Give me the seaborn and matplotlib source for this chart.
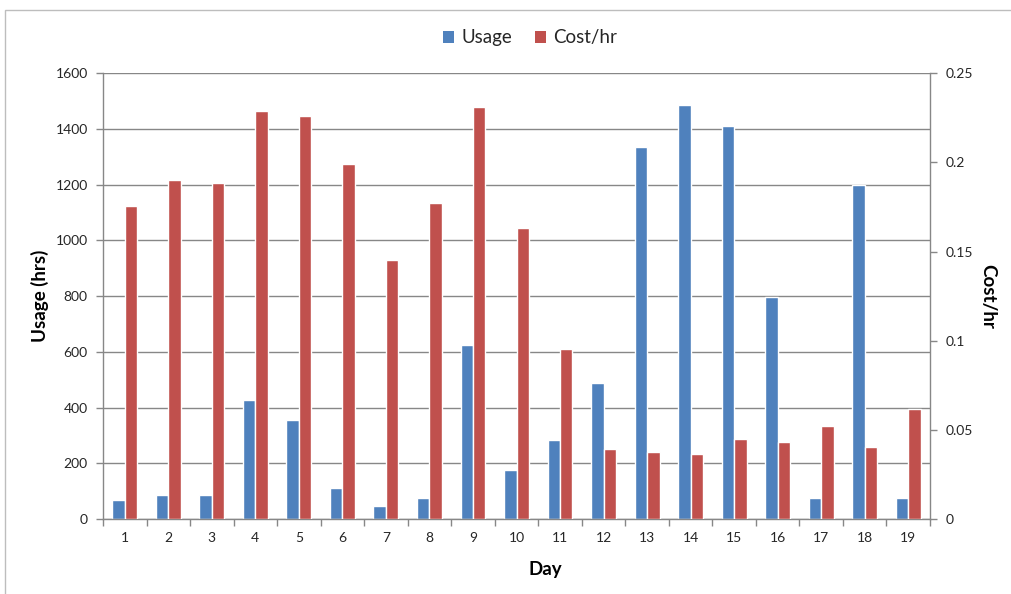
import numpy as np
import pandas as pd
import matplotlib
matplotlib.use("Agg")
import matplotlib.pyplot as plt
from matplotlib.patches import Patch, Rectangle
from matplotlib.ticker import FixedLocator, FuncFormatter
import seaborn as sns

days = [str(d) for d in range(1, 20)]
usage = [69, 87, 87, 428, 356, 112, 48, 74, 625, 177, 285, 488, 1335, 1485, 1412, 798, 74, 1199, 74]
cost = [0.1758, 0.190, 0.1887, 0.2287, 0.2261, 0.1992, 0.1452, 0.1771, 0.2313, 0.1631,
        0.0951, 0.0391, 0.0376, 0.0362, 0.0448, 0.0430, 0.0523, 0.0404, 0.0617]
series = ["Usage", "Cost/hr"]
colors = {"Usage": "#4F81BD", "Cost/hr": "#C0504D"}

sns.set_theme(style="white")
plt.rcParams["font.family"] = ["Lato", "DejaVu Sans"]

df_u = pd.DataFrame({"Day": days, "Series": "Usage", "Value": usage})
df_c = pd.DataFrame({"Day": days, "Series": "Cost/hr", "Value": cost})

W, H = 1011, 594
fig = plt.figure(figsize=(W / 100, H / 100), dpi=100)
fig.patch.set_facecolor("white")
ax = fig.add_axes([103 / W, 1 - 519 / H, (930 - 103) / W, (519 - 73.3) / H])
ax2 = ax.twinx()

grid_c = "#878787"
sns.barplot(data=df_u, x="Day", y="Value", hue="Series", hue_order=series, order=days,
            palette=colors, width=0.572, gap=0, dodge=True, ax=ax, legend=False,
            saturation=1, errorbar=None)
sns.barplot(data=df_c, x="Day", y="Value", hue="Series", hue_order=series, order=days,
            palette=colors, width=0.572, gap=0, dodge=True, ax=ax2, legend=False,
            saturation=1, errorbar=None)

ax.set_ylim(0, 1600)
ax2.set_ylim(0, 0.25)
ax.set_xlim(-0.5, 18.5)
ax.set_yticks(np.arange(0, 1601, 200))
ax2.set_yticks([0, 0.05, 0.1, 0.15, 0.2, 0.25])
ax2.yaxis.set_major_formatter(FuncFormatter(lambda v, p: "0" if v == 0 else f"{v:g}"))

ax.set_axisbelow(True)
ax.yaxis.grid(True, color=grid_c, linewidth=1.0)
ax.xaxis.grid(False)
ax2.grid(False)

for a in (ax, ax2):
    for s in a.spines.values():
        s.set_visible(False)
    a.set_xlabel("")
    a.set_ylabel("")
ax.spines["left"].set_visible(True)
ax.spines["bottom"].set_visible(True)
ax2.spines["right"].set_visible(True)
for s in (ax.spines["left"], ax.spines["bottom"], ax2.spines["right"]):
    s.set_color(grid_c)
    s.set_linewidth(1.0)

tick_c = "#262626"
ax.tick_params(axis="y", which="major", length=5, color=grid_c, width=1, labelsize=10,
               labelcolor=tick_c, pad=6, left=True)
ax2.tick_params(axis="y", which="major", length=5, color=grid_c, width=1, labelsize=10,
                labelcolor=tick_c, pad=6, right=True)
ax.tick_params(axis="x", which="major", length=0, labelsize=10, labelcolor=tick_c, pad=9)
ax.xaxis.set_minor_locator(FixedLocator(np.arange(-0.5, 19, 1.0)))
ax.tick_params(axis="x", which="minor", length=5, color=grid_c, width=1, bottom=True)

fig.text(40 / W, 1 - 296 / H, "Usage (hrs)", rotation=90, ha="center", va="center",
         fontsize=13.5, fontweight="bold", color="black")
fig.text(988 / W, 1 - 296 / H, "Cost/hr", rotation=270, ha="center", va="center",
         fontsize=13.5, fontweight="bold", color="black")
fig.text(545 / W, 1 - 570 / H, "Day", ha="center", va="center",
         fontsize=13.5, fontweight="bold", color="black")

handles = [Patch(facecolor=colors[s], edgecolor="none", label=s) for s in series]
fig.legend(handles=handles, loc="center", bbox_to_anchor=(530 / W, 1 - 38 / H), ncol=2,
           frameon=False, fontsize=13.5, handlelength=0.6, handleheight=0.6,
           handletextpad=0.4, columnspacing=1.2)

fig.patches.append(Rectangle((5 / W, -0.2), 1.2, 1.2 - 10 / H + 0.0, transform=fig.transFigure,
                             fill=False, edgecolor="#BDBDBD", linewidth=1.0, zorder=-1))

fig.savefig("out.png", dpi=100, facecolor="white")
